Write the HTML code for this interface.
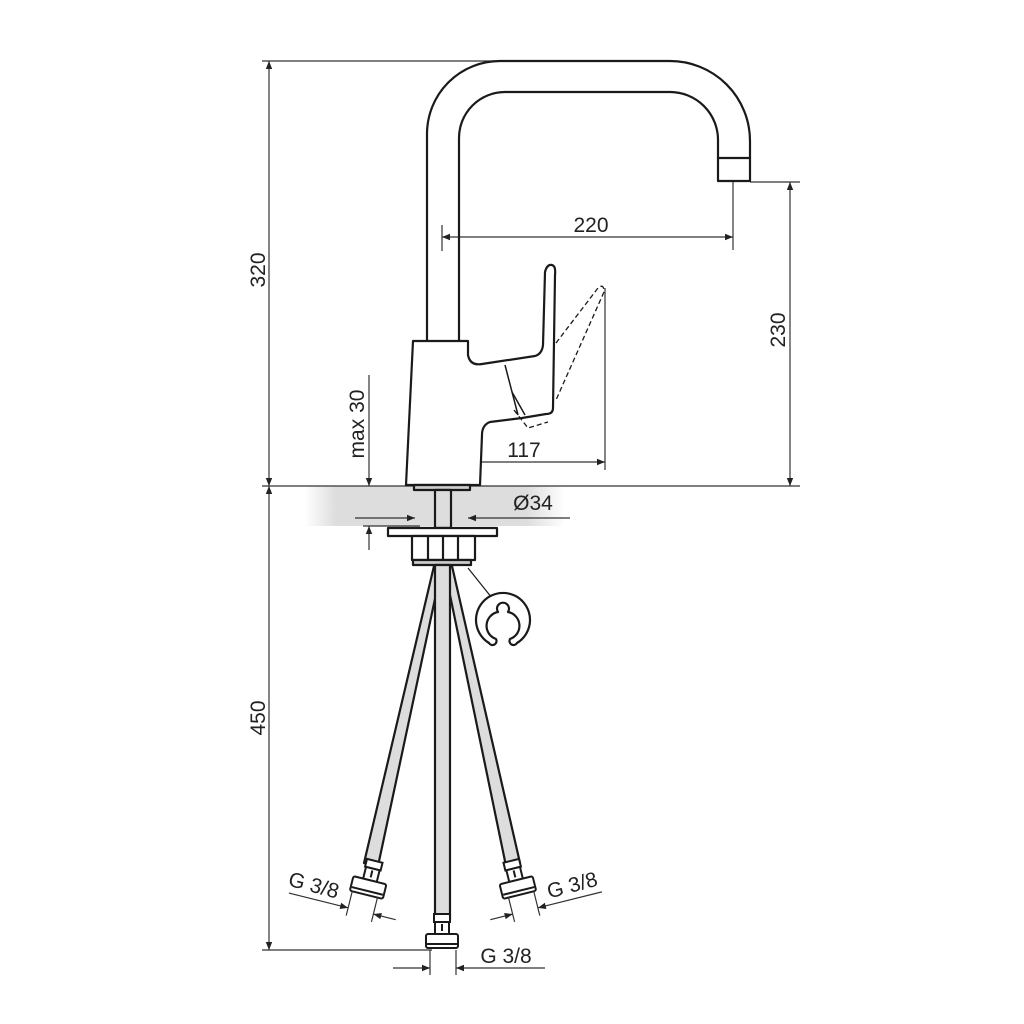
<!DOCTYPE html>
<html><head><meta charset="utf-8"><style>
html,body{margin:0;padding:0;background:#fff;}
svg{display:block}
text{font-family:"Liberation Sans",sans-serif;fill:#222;}
</style></head><body>
<svg width="1024" height="1024" viewBox="0 0 1024 1024" xmlns="http://www.w3.org/2000/svg">
<defs>
<marker id="a" viewBox="0 0 10 10" refX="10" refY="5" markerWidth="12" markerHeight="8" orient="auto-start-reverse" markerUnits="userSpaceOnUse"><path d="M0,1 L10,5 L0,9 z" fill="#222"/></marker>
<linearGradient id="deck" x1="0" x2="1" y1="0" y2="0">
<stop offset="0" stop-color="#fff"/><stop offset="0.12" stop-color="#ddd"/><stop offset="0.85" stop-color="#ddd"/><stop offset="1" stop-color="#fff"/></linearGradient>
</defs>
<rect x="305" y="486" width="260" height="40" fill="url(#deck)"/>
<g stroke="#333" stroke-width="1.2" fill="none">
<line x1="262" y1="61" x2="500" y2="61"/>
<line x1="262" y1="486" x2="800" y2="486"/>
<line x1="269" y1="61" x2="269" y2="486" marker-start="url(#a)" marker-end="url(#a)"/>
<line x1="269" y1="486" x2="269" y2="950" marker-start="url(#a)" marker-end="url(#a)"/>
<line x1="262" y1="950" x2="432" y2="950"/>
<line x1="750" y1="182" x2="800" y2="182"/>
<line x1="790" y1="182" x2="790" y2="486" marker-start="url(#a)" marker-end="url(#a)"/>
<line x1="733" y1="182" x2="733" y2="250"/>
<line x1="442" y1="225" x2="442" y2="251"/>
<line x1="442" y1="237" x2="733" y2="237" marker-start="url(#a)" marker-end="url(#a)"/>
<line x1="605" y1="288" x2="605" y2="470"/>
<line x1="443" y1="442" x2="443" y2="486"/>
<line x1="443" y1="462" x2="605" y2="462" marker-start="url(#a)" marker-end="url(#a)"/>
<line x1="369" y1="375" x2="369" y2="486" marker-end="url(#a)"/>
<line x1="369" y1="550" x2="369" y2="526" marker-end="url(#a)"/>
<line x1="355" y1="518" x2="415" y2="518" marker-end="url(#a)"/>
<line x1="570" y1="518" x2="468" y2="518" marker-end="url(#a)"/>
<line x1="363" y1="526" x2="420" y2="526"/>
</g>
<text x="591" y="232" font-size="21" text-anchor="middle">220</text>
<text x="524" y="457" font-size="21" text-anchor="middle">117</text>
<text x="533" y="510" font-size="21" text-anchor="middle">Ø34</text>
<text transform="translate(265,270) rotate(-90)" font-size="21" text-anchor="middle">320</text>
<text transform="translate(265,718) rotate(-90)" font-size="21" text-anchor="middle">450</text>
<text transform="translate(785,330) rotate(-90)" font-size="21" text-anchor="middle">230</text>
<text transform="translate(364,424) rotate(-90)" font-size="21" text-anchor="middle">max 30</text>
<text x="506" y="963" font-size="21" text-anchor="middle">G 3/8</text>
<text transform="translate(312,892) rotate(15)" font-size="21" text-anchor="middle">G 3/8</text>
<text transform="translate(574,892) rotate(-15)" font-size="21" text-anchor="middle">G 3/8</text>

<g stroke="#1a1a1a" stroke-width="2.2" fill="none" stroke-linejoin="round">
<path d="M427,342 L427,134 A73,73 0 0 1 500,61 L670,61 A80,80 0 0 1 750,141 L750,181 L718,181 L718,140 A48,48 0 0 0 670,92 L505,92 A46,46 0 0 0 459,138 L459,342"/>
<line x1="718" y1="158" x2="750" y2="158"/>
<path d="M406,485 L413,341 L468,341 L468,355 Q470,366 482,364 L535,356 Q542,354 543,345 L545,272 Q547,264 552,265 Q556,266 555,275 L553,408 Q553,414 546,414 L522,418 L490,422 Q482,425 482,435 L480,485 Z" fill="#fff"/>
<path d="M505,365 L518,415" stroke-width="1.5"/>
<path d="M512,392 L525,415" stroke-width="1.5"/>
<path d="M556,343 L598,288 Q604,283 604,292 L556,400" stroke-dasharray="5,3" stroke-width="1.3"/>
<path d="M514,410 L528,428 L548,422" stroke-dasharray="5,3" stroke-width="1.3"/>
<rect x="414" y="485" width="56" height="5" fill="#ccc"/>
<rect x="435" y="490" width="16" height="38" fill="#ddd"/>
<rect x="388" y="528" width="109" height="8" fill="#fff"/>
<rect x="412" y="536" width="63" height="24" fill="#fff"/>
<line x1="428" y1="536" x2="428" y2="560"/><line x1="443" y1="536" x2="443" y2="560"/><line x1="458" y1="536" x2="458" y2="560"/>
<rect x="413" y="560" width="58" height="5" fill="#ccc"/>
<path d="M434,566 L442,566 L378,866 L364,863 Z" fill="#ddd"/>
<path d="M444,566 L452,566 L520,863 L506,866 Z" fill="#ddd"/>
<rect x="435" y="565" width="15" height="355" fill="#ddd"/>
<line x1="468" y1="568" x2="492" y2="598" stroke-width="1.2"/>
<path d="M489,643 A27,27 0 1 1 517,643 A4,4 0 0 1 510,639 A14,14 0 0 0 508,612 A6,6 0 1 0 498,612 A14,14 0 0 0 496,639 A4,4 0 0 1 489,643 Z" fill="#fff"/>
</g>
<g stroke="#1a1a1a" stroke-width="2" fill="#fff">
<g transform="translate(442,942)">
<rect x="-8" y="-28" width="16" height="8"/><rect x="-7" y="-20" width="14" height="12" fill="#fff"/><line x1="0" y1="-18" x2="0" y2="-11"/>
<rect x="-16" y="-8" width="32" height="14" rx="2"/><line x1="-15" y1="2" x2="15" y2="2"/>
</g>
<g transform="translate(368,888) rotate(14)">
<rect x="-8" y="-28" width="16" height="8"/><rect x="-7" y="-20" width="14" height="12"/><line x1="0" y1="-18" x2="0" y2="-11"/>
<rect x="-17" y="-8" width="34" height="15" rx="2"/><line x1="-16" y1="3" x2="16" y2="3"/>
</g>
<g transform="translate(518,888) rotate(-14)">
<rect x="-8" y="-28" width="16" height="8"/><rect x="-7" y="-20" width="14" height="12"/><line x1="0" y1="-18" x2="0" y2="-11"/>
<rect x="-17" y="-8" width="34" height="15" rx="2"/><line x1="-16" y1="3" x2="16" y2="3"/>
</g>
</g>
<g stroke="#333" stroke-width="1.2" fill="none">
<line x1="430" y1="950" x2="430" y2="975"/><line x1="456" y1="950" x2="456" y2="975"/>
<line x1="393" y1="968" x2="430" y2="968" marker-end="url(#a)"/>
<line x1="545" y1="968" x2="456" y2="968" marker-end="url(#a)"/>
<g transform="translate(368,886) rotate(14)">
<line x1="-14" y1="8" x2="-14" y2="34"/><line x1="12" y1="8" x2="12" y2="34"/>
<line x1="-75" y1="26" x2="-14" y2="26" marker-end="url(#a)"/>
<line x1="35" y1="26" x2="12" y2="26" marker-end="url(#a)"/>
</g>
<g transform="translate(518,886) rotate(-14)">
<line x1="-12" y1="8" x2="-12" y2="34"/><line x1="14" y1="8" x2="14" y2="34"/>
<line x1="-35" y1="26" x2="-12" y2="26" marker-end="url(#a)"/>
<line x1="80" y1="26" x2="14" y2="26" marker-end="url(#a)"/>
</g>
</g>
</svg>
</body></html>
